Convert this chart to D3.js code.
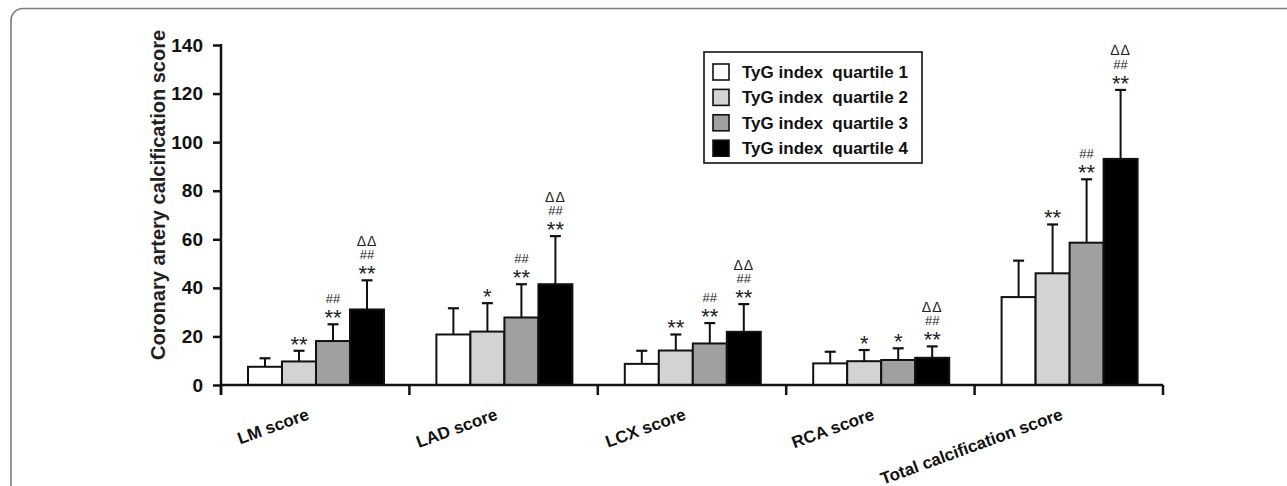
<!DOCTYPE html>
<html>
<head>
<meta charset="utf-8">
<script src="https://cdn.jsdelivr.net/npm/d3@7"></script>
<style>
  html, body { margin: 0; padding: 0; background: #fff; }
  svg { display: block; font-family: "Liberation Sans", Arial, sans-serif; }
</style>
</head>
<body>
<div id="chart"></div>
<script>
// data
const categories = ["LM score", "LAD score", "LCX score", "RCA score", "Total calcification score"];
const quartiles = ["TyG index quartile 1", "TyG index quartile 2", "TyG index quartile 3", "TyG index quartile 4"];
const fills = ["#ffffff", "#d3d3d3", "#a0a0a0", "#000000"];

const meanQ1 = [7.5, 20.8, 8.7, 8.9, 36.2];
const meanQ2 = [9.7, 22.0, 14.2, 9.8, 46.0];
const meanQ3 = [18.1, 27.8, 17.1, 10.3, 58.6];
const meanQ4 = [31.1, 41.5, 21.9, 11.2, 93.1];

const upperQ1 = [11.0, 31.6, 14.1, 13.7, 51.2];
const upperQ2 = [14.1, 33.7, 20.8, 14.4, 66.1];
const upperQ3 = [25.0, 41.5, 25.5, 15.1, 84.7];
const upperQ4 = [43.1, 61.3, 33.3, 15.9, 121.5];

// significance marks: * vs Q1, # vs Q2, Δ vs Q3
const starsQ2 = ["**", "*", "**", "*", "**"];
const starsQ3 = ["**", "**", "**", "*", "**"];
const hashQ3 = ["##", "##", "##", "", "##"];
const starsQ4 = ["**", "**", "**", "**", "**"];
const hashQ4 = ["##", "##", "##", "##", "##"];
const deltaQ4 = ["ΔΔ", "ΔΔ", "ΔΔ", "ΔΔ", "ΔΔ"];

const yTicks = [0, 20, 40, 60, 80, 100, 120, 140];

const means = [meanQ1, meanQ2, meanQ3, meanQ4];
const uppers = [upperQ1, upperQ2, upperQ3, upperQ4];
const marks = [
  categories.map(() => ({ s: "", h: "", d: "" })),
  starsQ2.map(s => ({ s, h: "", d: "" })),
  starsQ3.map((s, i) => ({ s, h: hashQ3[i], d: "" })),
  starsQ4.map((s, i) => ({ s, h: hashQ4[i], d: deltaQ4[i] }))
];

const bars = [];
categories.forEach((c, ci) => {
  quartiles.forEach((q, qi) => {
    bars.push({ cat: c, q, qi, v: means[qi][ci], up: uppers[qi][ci], m: marks[qi][ci] });
  });
});

const W = 1287, H = 486;
const svg = d3.select("#chart").append("svg").attr("width", W).attr("height", H);

// panel frame
svg.append("rect")
  .attr("x", 11).attr("y", 8.5).attr("width", 1400).attr("height", 700)
  .attr("rx", 12)
  .attr("fill", "none").attr("stroke", "#7a7a7a").attr("stroke-width", 1.6);

const x0 = d3.scaleBand().domain(categories).range([221, 1163]);
const x1 = d3.scaleBand().domain(quartiles).range([27, 163]);
const y = d3.scaleLinear().domain([0, 140]).range([385, 45]);

const g = svg.append("g");

// bars
const bar = g.selectAll(".bar").data(bars).join("g").attr("class", "bar")
  .attr("transform", d => `translate(${x0(d.cat) + x1(d.q)},0)`);

bar.append("line")
  .attr("x1", x1.bandwidth() / 2).attr("x2", x1.bandwidth() / 2)
  .attr("y1", d => y(d.v)).attr("y2", d => y(d.up))
  .attr("stroke", "#111").attr("stroke-width", 2);
bar.append("line")
  .attr("x1", x1.bandwidth() / 2 - 5.5).attr("x2", x1.bandwidth() / 2 + 5.5)
  .attr("y1", d => y(d.up)).attr("y2", d => y(d.up))
  .attr("stroke", "#111").attr("stroke-width", 2.2);

bar.append("rect")
  .attr("x", 0).attr("width", x1.bandwidth())
  .attr("y", d => y(d.v)).attr("height", d => y(0) - y(d.v))
  .attr("fill", d => fills[d.qi])
  .attr("stroke", "#111").attr("stroke-width", 2);

// significance marks
bar.append("text")
  .attr("x", x1.bandwidth() / 2).attr("y", d => y(d.up) + 1)
  .attr("text-anchor", "middle").attr("font-size", 22).attr("fill", "#222")
  .text(d => d.m.s);
bar.append("text")
  .attr("x", x1.bandwidth() / 2).attr("y", d => y(d.up) - 21)
  .attr("text-anchor", "middle").attr("font-size", 13).attr("fill", "#222")
  .text(d => d.m.h);
bar.append("text")
  .attr("x", x1.bandwidth() / 2).attr("y", d => y(d.up) - 34.5)
  .attr("text-anchor", "middle").attr("font-size", 14).attr("fill", "#222")
  .attr("letter-spacing", 1)
  .text(d => d.m.d);

// y axis
const yAxis = g.append("g").attr("transform", "translate(221,0)")
  .call(d3.axisLeft(y).tickValues(yTicks).tickSize(8).tickPadding(10));
yAxis.select(".domain").remove();
yAxis.selectAll(".tick line").attr("stroke", "#111").attr("stroke-width", 2.5);
yAxis.selectAll(".tick text").attr("font-size", 19).attr("font-weight", "bold")
  .attr("fill", "#111").attr("font-family", "'Liberation Sans', Arial, sans-serif");
g.append("line").attr("x1", 221).attr("x2", 221).attr("y1", 44).attr("y2", 395)
  .attr("stroke", "#111").attr("stroke-width", 2.5);

// x axis with group separators
g.append("line").attr("x1", 220).attr("x2", 1163).attr("y1", 385).attr("y2", 385)
  .attr("stroke", "#111").attr("stroke-width", 2.5);
const seps = categories.map(c => x0(c)).concat([x0.range()[1]]);
g.selectAll(".sep").data(seps).join("line").attr("class", "sep")
  .attr("x1", d => d).attr("x2", d => d).attr("y1", 385).attr("y2", 395)
  .attr("stroke", "#111").attr("stroke-width", 2.5);

g.selectAll(".cat").data(categories).join("text").attr("class", "cat")
  .attr("transform", d => `translate(${x0(d) + x0.bandwidth() / 2 - 5},419) rotate(-20)`)
  .attr("text-anchor", "end")
  .attr("font-size", 17).attr("font-weight", "bold").attr("fill", "#111")
  .text(d => d);

// y title
g.append("text")
  .attr("transform", "translate(165,195) rotate(-90)")
  .attr("text-anchor", "middle")
  .attr("font-size", 20).attr("font-weight", "bold").attr("fill", "#222")
  .text("Coronary artery calcification score");

// legend
const lg = svg.append("g");
lg.append("rect").attr("x", 704).attr("y", 52).attr("width", 218).attr("height", 111)
  .attr("fill", "#fff").attr("stroke", "#111").attr("stroke-width", 1.6);
const item = lg.selectAll(".item").data(quartiles).join("g").attr("class", "item")
  .attr("transform", (d, i) => `translate(713,${72 + i * 25.4})`);
item.append("rect").attr("x", 0).attr("y", -8).attr("width", 16).attr("height", 16)
  .attr("fill", (d, i) => fills[i]).attr("stroke", "#111").attr("stroke-width", 1.6);
item.append("text").attr("x", 29).attr("y", 6)
  .attr("font-size", 17).attr("font-weight", "bold").attr("fill", "#111")
  .attr("xml:space", "preserve").style("white-space", "pre")
  .text(d => d.replace("index ", "index  "));
</script>
</body>
</html>
